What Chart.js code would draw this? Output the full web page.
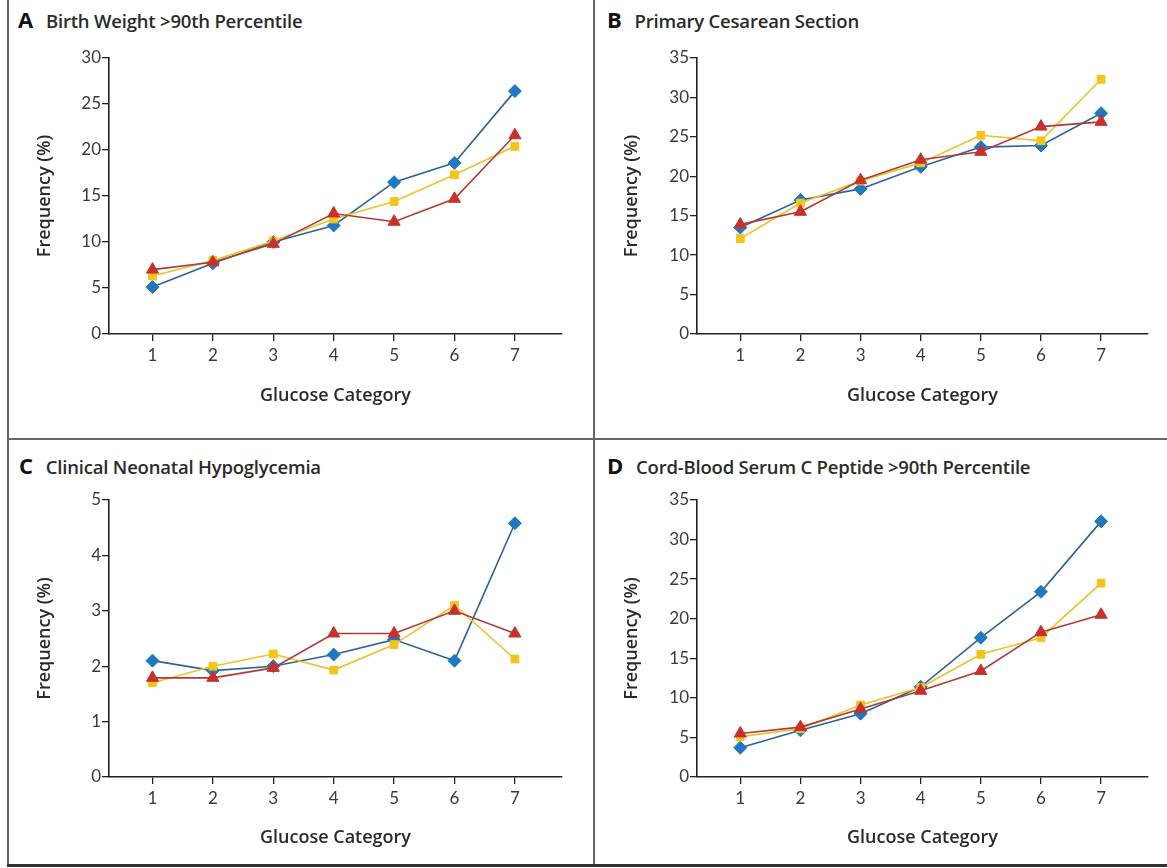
<!DOCTYPE html>
<html>
<head>
<meta charset="utf-8">
<script src="https://cdn.jsdelivr.net/npm/chart.js@4"></script>
<style>
body { margin: 0; background: #fff; width: 1167px; height: 868px; position: relative; overflow: hidden; font-family: 'Open Sans', sans-serif; }
.line { position: absolute; background: #666; }
.ttl { position: absolute; font-size: 18.5px; font-weight: 600; color: #2b2b2b; white-space: nowrap; line-height: 26px; letter-spacing: -0.2px; }
.ttl b { font-size: 22px; font-weight: 700; color: #111; margin-right: 13px; }
.box { position: absolute; }
</style>
</head>
<body>

<div class="line" style="left:7px; top:0; width:2px; height:866px;"></div>
<div class="line" style="left:593px; top:0; width:1.5px; height:866px;"></div>
<div class="line" style="left:8px; top:438px; width:1159px; height:1.5px;"></div>
<div class="line" style="left:7px; top:864px; width:1160px; height:2.5px; background:#333;"></div>

<div class="ttl" style="left:18px; top:6px;"><b>A</b>Birth Weight &gt;90th Percentile</div>
<div class="ttl" style="left:607px; top:6px;"><b>B</b>Primary Cesarean Section</div>
<div class="ttl" style="left:19px; top:452px;"><b>C</b>Clinical Neonatal Hypoglycemia</div>
<div class="ttl" style="left:607px; top:452px;"><b>D</b>Cord-Blood Serum C Peptide &gt;90th Percentile</div>

<div class="box" style="left:8px; top:36px;"><canvas id="chartA" width="586" height="402"></canvas></div>
<div class="box" style="left:594px; top:36px;"><canvas id="chartB" width="573" height="402"></canvas></div>
<div class="box" style="left:8px; top:475px;"><canvas id="chartC" width="586" height="391"></canvas></div>
<div class="box" style="left:594px; top:475px;"><canvas id="chartD" width="573" height="391"></canvas></div>

<script>
var categories = [1, 2, 3, 4, 5, 6, 7]

// A  birth weight >90th percentile
var birthBlue   = [5.1, 7.7, 10.0, 11.8, 16.5, 18.6, 26.4]
var birthYellow = [6.3, 8.0, 10.1, 12.5, 14.4, 17.3, 20.4]
var birthRed    = [7.0, 7.8, 9.8, 13.1, 12.2, 14.7, 21.6]

// B  primary cesarean section
var cesBlue   = [13.5, 17.0, 18.4, 21.2, 23.7, 23.9, 28.0]
var cesYellow = [12.1, 16.6, 19.4, 21.7, 25.2, 24.5, 32.3]
var cesRed    = [13.9, 15.5, 19.5, 22.1, 23.1, 26.3, 26.9]

// C  clinical neonatal hypoglycemia
var hypoBlue   = [2.1, 1.92, 2.0, 2.21, 2.48, 2.1, 4.58]
var hypoYellow = [1.7, 2.0, 2.22, 1.93, 2.39, 3.1, 2.13]
var hypoRed    = [1.79, 1.79, 1.97, 2.59, 2.59, 3.0, 2.59]

// D  cord-blood serum C peptide >90th percentile
var pepBlue   = [3.7, 5.9, 8.0, 11.4, 17.6, 23.4, 32.3]
var pepYellow = [5.1, 6.1, 9.1, 11.3, 15.5, 17.6, 24.5]
var pepRed    = [5.5, 6.3, 8.6, 10.9, 13.4, 18.3, 20.5]

var yTicksBig = [0, 5, 10, 15, 20, 25, 30, 35]
var yTicksSmall = [0, 1, 2, 3, 4, 5]

var tickFont = { family: "Lato, 'Open Sans', sans-serif", size: 17 }
var axisFont = { family: "'Open Sans', sans-serif", size: 18, weight: '600', lineHeight: 1.2 }

function series(vals, color, lineColor, style, r, order) {
    return {
        data: vals.map((v, i) => ({ x: categories[i], y: v })),
        borderColor: lineColor,
        backgroundColor: color,
        pointBorderColor: color,
        pointStyle: style,
        pointRadius: r,
        pointBorderWidth: 1,
        borderWidth: 1.6,
        tension: 0,
        order: order
    }
}

function makeChart(id, cfg) {
    new Chart(document.getElementById(id), {
        type: 'line',
        data: {
            datasets: [
                series(cfg.blue, '#1f78c1', '#2a649c', 'rectRot', 6.5, 3),
                series(cfg.yellow, '#f3c41c', '#ecc22a', 'rect', 5.5, 2),
                series(cfg.red, '#c8312b', '#b13a35', 'triangle', 7, 1)
            ]
        },
        options: {
            responsive: false,
            animation: false,
            layout: { padding: { top: cfg.padTop, right: cfg.padRight, bottom: cfg.padBottom, left: 0 } },
            plugins: { legend: { display: false }, tooltip: { enabled: false } },
            scales: {
                x: {
                    type: 'linear',
                    min: 0.28,
                    max: 7.78,
                    afterBuildTicks: s => { s.ticks = categories.map(v => ({ value: v })) },
                    afterFit: s => { s.height = cfg.xHeight },
                    grid: { drawOnChartArea: false, tickLength: 7, color: '#222', lineWidth: 1.3 },
                    border: { color: '#222', width: 1.6 },
                    ticks: { padding: 4, color: '#3a3a3a', font: tickFont },
                    title: { display: true, text: 'Glucose Category', color: '#2a2a2a', font: axisFont, padding: 0 }
                },
                y: {
                    min: 0,
                    max: cfg.yTicks[cfg.yTicks.length - 1],
                    afterBuildTicks: s => { s.ticks = cfg.yTicks.map(v => ({ value: v })) },
                    afterFit: s => { s.width = cfg.yWidth },
                    grid: { drawOnChartArea: false, tickLength: 7, color: '#222', lineWidth: 1.3 },
                    border: { color: '#222', width: 1.6 },
                    ticks: { padding: 1, color: '#3a3a3a', font: tickFont },
                    title: { display: true, text: 'Frequency (%)', color: '#2a2a2a', font: axisFont, padding: { top: cfg.yTitlePad, bottom: 0 } }
                }
            }
        }
    })
}

// title centre lines: x axis title ~396/838, y axis title ~x 45 / 632
makeChart('chartA', { blue: birthBlue, yellow: birthYellow, red: birthRed, yTicks: yTicksBig.slice(0, 7),
    padTop: 22, padRight: 32, padBottom: 31.2, xHeight: 72.8, yWidth: 101, yTitlePad: 26.2 })
makeChart('chartB', { blue: cesBlue, yellow: cesYellow, red: cesRed, yTicks: yTicksBig,
    padTop: 22, padRight: 19, padBottom: 31.2, xHeight: 72.8, yWidth: 103, yTitlePad: 27.2 })
makeChart('chartC', { blue: hypoBlue, yellow: hypoYellow, red: hypoRed, yTicks: yTicksSmall,
    padTop: 25, padRight: 32, padBottom: 17.2, xHeight: 71.8, yWidth: 101, yTitlePad: 26.2 })
makeChart('chartD', { blue: pepBlue, yellow: pepYellow, red: pepRed, yTicks: yTicksBig,
    padTop: 25, padRight: 19, padBottom: 17.2, xHeight: 71.8, yWidth: 103, yTitlePad: 27.2 })
</script>
</body>
</html>
